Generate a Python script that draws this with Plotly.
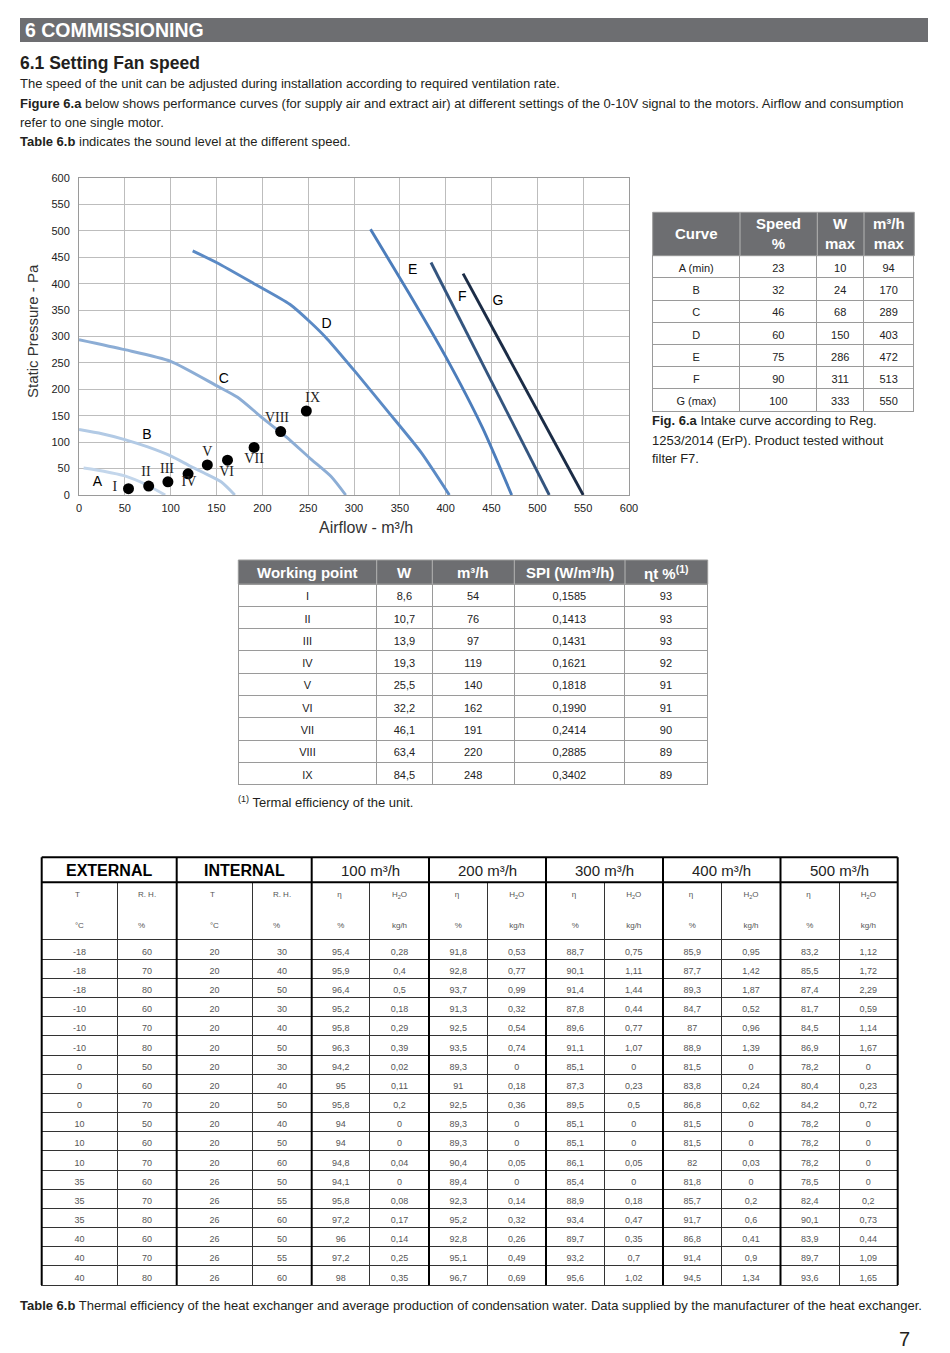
import plotly.graph_objects as go

W_PX, H_PX = 950, 1353
OFF = 8  # the page body margin shifts the figure by this many pixels
SANS = "Liberation Sans, Arial, sans-serif"
SERIF = "Liberation Serif, Times New Roman, serif"
BARGRAY = "#6d6e71"
TXT = "#231f20"

def px(x):
    return (x - OFF) / W_PX

def py(y):
    return 1 - (y - OFF) / H_PX

def fmt(v, nd=None):
    s = f"{v:.{nd}f}" if nd is not None else f"{v:g}"
    return s.replace(".", ",")

# ---------------- chart data ----------------
curve_labels = ["A", "B", "C", "D", "E", "F", "G"]
curve_colors = ["#c3d6eb", "#b2cae5", "#8cadd5", "#5b8ac5", "#4c7dbb", "#34557f", "#1b2c46"]
A_x = [5, 27, 50, 74, 94]
A_y = [51, 45, 36, 19, 0]
B_x = [0, 25, 50, 75, 100, 121, 136, 155, 170]
B_y = [124, 116, 105, 91, 74, 55, 42, 25, 0]
C_x = [0, 50, 100, 150, 173, 200, 226, 253, 275, 291]
C_y = [294, 275, 253, 207, 185, 146, 110, 68, 35, 0]
D_x = [124, 150, 190, 230, 253, 271, 302, 338, 373, 404]
D_y = [462, 440, 401, 361, 326, 295, 232, 156, 81, 0]
E_x = [318, 360, 400, 440, 472]
E_y = [503, 382, 262, 128, 0]
F_x = [384, 513]
F_y = [440, 0]
G_x = [419, 550]
G_y = [419, 0]
curves_x = [A_x, B_x, C_x, D_x, E_x, F_x, G_x]
curves_y = [A_y, B_y, C_y, D_y, E_y, F_y, G_y]
label_x = [20, 74, 158, 270, 364, 418, 457]
label_y = [23, 112, 218, 323, 425, 373, 366]

# working points
wp_labels = ["I", "II", "III", "IV", "V", "VI", "VII", "VIII", "IX"]
wp_W = [8.6, 10.7, 13.9, 19.3, 25.5, 32.2, 46.1, 63.4, 84.5]
wp_flow = [54, 76, 97, 119, 140, 162, 191, 220, 248]
wp_spi = [0.1585, 0.1413, 0.1431, 0.1621, 0.1818, 0.1990, 0.2414, 0.2885, 0.3402]
wp_eff = [93, 93, 93, 92, 91, 91, 90, 89, 89]
wp_pressure = [12, 17, 25, 40, 57, 66, 90, 120, 159]
wp_lab_x = [39, 73, 96, 120, 140, 161, 191, 216, 255]
wp_lab_y = [14, 43, 49, 24, 80, 43, 68, 145, 183]
wp_headers = ["<b>Working point</b>", "<b>W</b>", "<b>m³/h</b>", "<b>SPI (W/m³/h)</b>", "<b>ɳt %<sup>(1)</sup></b>"]

x_ticks = [0, 50, 100, 150, 200, 250, 300, 350, 400, 450, 500, 550, 600]
y_ticks = [0, 50, 100, 150, 200, 250, 300, 350, 400, 450, 500, 550, 600]

# curve table
curve_names = ["A (min)", "B", "C", "D", "E", "F", "G (max)"]
speed_pct = [23, 32, 46, 60, 75, 90, 100]
w_max = [10, 24, 68, 150, 286, 311, 333]
flow_max = [94, 170, 289, 403, 472, 513, 550]
curve_headers = ["<b>Curve</b>", "<b>Speed<br>%</b>", "<b>W<br>max</b>", "<b>m³/h<br>max</b>"]

# thermal efficiency table
ext_T = [-18, -18, -18, -10, -10, -10, 0, 0, 0, 10, 10, 10, 35, 35, 35, 40, 40, 40]
ext_RH = [60, 70, 80, 60, 70, 80, 50, 60, 70, 50, 60, 70, 60, 70, 80, 60, 70, 80]
int_T = [20, 20, 20, 20, 20, 20, 20, 20, 20, 20, 20, 20, 26, 26, 26, 26, 26, 26]
int_RH = [30, 40, 50, 30, 40, 50, 30, 40, 50, 40, 50, 60, 50, 55, 60, 50, 55, 60]
eta100 = [95.4, 95.9, 96.4, 95.2, 95.8, 96.3, 94.2, 95, 95.8, 94, 94, 94.8, 94.1, 95.8, 97.2, 96, 97.2, 98]
h2o100 = [0.28, 0.4, 0.5, 0.18, 0.29, 0.39, 0.02, 0.11, 0.2, 0, 0, 0.04, 0, 0.08, 0.17, 0.14, 0.25, 0.35]
eta200 = [91.8, 92.8, 93.7, 91.3, 92.5, 93.5, 89.3, 91, 92.5, 89.3, 89.3, 90.4, 89.4, 92.3, 95.2, 92.8, 95.1, 96.7]
h2o200 = [0.53, 0.77, 0.99, 0.32, 0.54, 0.74, 0, 0.18, 0.36, 0, 0, 0.05, 0, 0.14, 0.32, 0.26, 0.49, 0.69]
eta300 = [88.7, 90.1, 91.4, 87.8, 89.6, 91.1, 85.1, 87.3, 89.5, 85.1, 85.1, 86.1, 85.4, 88.9, 93.4, 89.7, 93.2, 95.6]
h2o300 = [0.75, 1.11, 1.44, 0.44, 0.77, 1.07, 0, 0.23, 0.5, 0, 0, 0.05, 0, 0.18, 0.47, 0.35, 0.7, 1.02]
eta400 = [85.9, 87.7, 89.3, 84.7, 87, 88.9, 81.5, 83.8, 86.8, 81.5, 81.5, 82, 81.8, 85.7, 91.7, 86.8, 91.4, 94.5]
h2o400 = [0.95, 1.42, 1.87, 0.52, 0.96, 1.39, 0, 0.24, 0.62, 0, 0, 0.03, 0, 0.2, 0.6, 0.41, 0.9, 1.34]
eta500 = [83.2, 85.5, 87.4, 81.7, 84.5, 86.9, 78.2, 80.4, 84.2, 78.2, 78.2, 78.2, 78.5, 82.4, 90.1, 83.9, 89.7, 93.6]
h2o500 = [1.12, 1.72, 2.29, 0.59, 1.14, 1.67, 0, 0.23, 0.72, 0, 0, 0, 0, 0.2, 0.73, 0.44, 1.09, 1.65]
group_labels = ["<b>EXTERNAL</b>", "<b>INTERNAL</b>", "100 m³/h", "200 m³/h", "300 m³/h", "400 m³/h", "500 m³/h"]
sub_names = ["T", "R. H.", "T", "R. H."] + ["η", "H<sub>2</sub>O"] * 5
sub_units = ["°C", "%", "°C", "%"] + ["%", "kg/h"] * 5

fig = go.Figure()

# ---------------- chart ----------------
for lab, cx, cy, col in zip(curve_labels, curves_x, curves_y, curve_colors):
    fig.add_trace(go.Scatter(x=cx, y=cy, mode="lines", name=lab,
                             line=dict(color=col, width=2.9, shape="spline", smoothing=0.6),
                             hoverinfo="skip", showlegend=False))
fig.add_trace(go.Scatter(x=wp_flow, y=wp_pressure, mode="markers", showlegend=False,
                         marker=dict(color="black", size=11), hoverinfo="skip"))
fig.add_trace(go.Scatter(x=label_x, y=label_y, mode="text", text=curve_labels, showlegend=False,
                         textfont=dict(family=SANS, size=14, color="black"), hoverinfo="skip"))
fig.add_trace(go.Scatter(x=wp_lab_x, y=wp_lab_y, mode="text", text=wp_labels, showlegend=False,
                         textfont=dict(family=SERIF, size=14, color="#222"), hoverinfo="skip"))

axis_common = dict(range=[0, 600], showgrid=True, gridcolor="#bdbdbd", gridwidth=1,
                   zeroline=False, showline=True, linecolor="#9a9a9a", linewidth=1, mirror=True,
                   ticks="", automargin=False,
                   tickfont=dict(family=SANS, size=11, color="#222"), fixedrange=True)
fig.update_xaxes(domain=[px(79), px(629)], tickvals=x_ticks, ticklabelstandoff=3, **axis_common)
fig.update_yaxes(domain=[py(495), py(178)], tickvals=y_ticks, ticklabelstandoff=6, **axis_common)

annotations = []
shapes = []

def text(x, y, s, size=13, family=SANS, color=TXT, xanchor="left", yanchor="middle", align="left"):
    annotations.append(dict(x=px(x), y=py(y), xref="paper", yref="paper", text=s, showarrow=False,
                            xanchor=xanchor, yanchor=yanchor, align=align, borderpad=0,
                            font=dict(size=size, family=family, color=color)))

def line(x0, y0, x1, y1, color="black", width=1):
    shapes.append(dict(type="line", xref="paper", yref="paper", x0=px(x0), x1=px(x1), y0=py(y0), y1=py(y1),
                       line=dict(color=color, width=width)))

def header_row(bounds, y0, y1, labels, size):
    shapes.append(dict(type="rect", xref="paper", yref="paper", x0=px(bounds[0]), x1=px(bounds[-1]),
                       y0=py(y1), y1=py(y0), fillcolor=BARGRAY, line=dict(color="#9a9a9a", width=1)))
    for b in bounds[1:-1]:
        line(b, y0, b, y1, color="#b5b5b5", width=1)
    for i, lab in enumerate(labels):
        text((bounds[i] + bounds[i + 1]) / 2, (y0 + y1) / 2, lab, size=size, color="white",
             xanchor="center", align="center")

def body_table(bounds, y_top, y_bot, columns, row_h, size, color="#222", line_color="#9a9a9a"):
    # first row is given as the table header, styled exactly as the body rows
    widths = [bounds[i + 1] - bounds[i] for i in range(len(bounds) - 1)]
    style = dict(fill_color="white", line=dict(color=line_color, width=1), align="center", height=row_h,
                 font=dict(family=SANS, size=size, color=color))
    fig.add_trace(go.Table(
        domain=dict(x=[px(bounds[0]), px(bounds[-1])], y=[py(y_bot), py(y_top)]),
        columnwidth=widths,
        header=dict(values=[c[0] for c in columns], **style),
        cells=dict(values=[c[1:] for c in columns], **style)))

annotations.append(dict(x=px(32), y=py(331), xref="paper", yref="paper", text="Static Pressure - Pa",
                        showarrow=False, textangle=-90, xanchor="center", yanchor="middle",
                        font=dict(size=15, family=SANS, color="#333")))
annotations.append(dict(x=px(366), y=py(528), xref="paper", yref="paper", text="Airflow - m³/h",
                        showarrow=False, xanchor="center", yanchor="middle",
                        font=dict(size=16, family=SANS, color="#333")))

# ---------------- page texts ----------------
shapes.append(dict(type="rect", xref="paper", yref="paper", x0=px(20), x1=px(928), y0=py(42), y1=py(18),
                   fillcolor=BARGRAY, line=dict(width=0)))
text(24, 30.5, "<b>6 COMMISSIONING</b>", size=19.5, color="white")
text(19, 63, "<b>6.1 Setting Fan speed</b>", size=17.5)
text(19, 84, "The speed of the unit can be adjusted during installation according to required ventilation rate.")
text(19, 104, "<b>Figure 6.a</b> below shows performance curves (for supply air and extract air) at different settings of the 0-10V signal to the motors. Airflow and consumption")
text(19, 123, "refer to one single motor.")
text(19, 142, "<b>Table 6.b</b> indicates the sound level at the different speed.")
text(651, 421, "<b>Fig. 6.a</b> Intake curve according to Reg.")
text(651, 440, "1253/2014 (ErP). Product tested without")
text(651, 459, "filter F7.")
text(237, 802, "<sup>(1)</sup> Termal efficiency of the unit.")
text(19, 1305, "<b>Table 6.b</b> Thermal efficiency of the heat exchanger and average production of condensation water. Data supplied by the manufacturer of the heat exchanger.")
text(911, 1339, "7", size=20, xanchor="right")

# ---------------- curve table ----------------
ct_bounds = [652.7, 740, 817.3, 864, 914.3]
header_row(ct_bounds, 212.3, 255.7, curve_headers, 15)
body_table(ct_bounds, 255.7, 420, [curve_names, speed_pct, w_max, flow_max], 22.2, 11)

# ---------------- working point table ----------------
wp_bounds = [238.3, 376.7, 432.3, 514.3, 625, 707.7]
header_row(wp_bounds, 560, 584, wp_headers, 15)
body_table(wp_bounds, 584, 795,
           [wp_labels, [fmt(v, 1) for v in wp_W], wp_flow, [fmt(v, 4) for v in wp_spi], wp_eff], 22.3, 11)

# ---------------- thermal efficiency table ----------------
col_bounds = [41.7, 117.3, 176.7, 252.3, 311.7, 370, 429, 487.5, 546, 604.5, 663, 721.5, 780.5, 839, 897.7]
col_w = [col_bounds[i + 1] - col_bounds[i] for i in range(14)]
big_cols = [ext_T, ext_RH, int_T, int_RH, eta100, h2o100, eta200, h2o200,
            eta300, h2o300, eta400, h2o400, eta500, h2o500]
fig.add_trace(go.Table(
    domain=dict(x=[px(41.7), px(897.7)], y=[py(1295), py(882.3)]),
    columnwidth=col_w,
    header=dict(values=[f"{n}<br><br><br>{u}" for n, u in zip(sub_names, sub_units)],
                fill_color="white", line=dict(color="#333", width=1), align="center", height=57.7,
                font=dict(family=SANS, size=8, color="#555")),
    cells=dict(values=[[fmt(v) for v in c] for c in big_cols],
               fill_color="white", line=dict(color="#333", width=1), align="center", height=19.17,
               font=dict(family=SANS, size=9, color="#555"))))

top, row1b, bottom = 857.3, 882.3, 1285
group_bounds = [41.7, 176.7, 311.7, 429, 546, 663, 780.5, 897.7]
for gx in group_bounds:
    line(gx, top, gx, bottom, width=2)
for yy in [top, row1b]:
    line(41.7, yy, 897.7, yy, width=2)
for i, g in enumerate(group_labels):
    cx = (group_bounds[i] + group_bounds[i + 1]) / 2
    bold = i < 2
    text(cx, 870, g, size=16 if bold else 15, color="black" if bold else "#222", xanchor="center")

fig.update_layout(width=W_PX, height=H_PX, margin=dict(l=0, r=0, t=0, b=0, autoexpand=False),
                  paper_bgcolor="white", plot_bgcolor="white",
                  annotations=annotations, shapes=shapes, showlegend=False)
fig.write_html("out.html")
